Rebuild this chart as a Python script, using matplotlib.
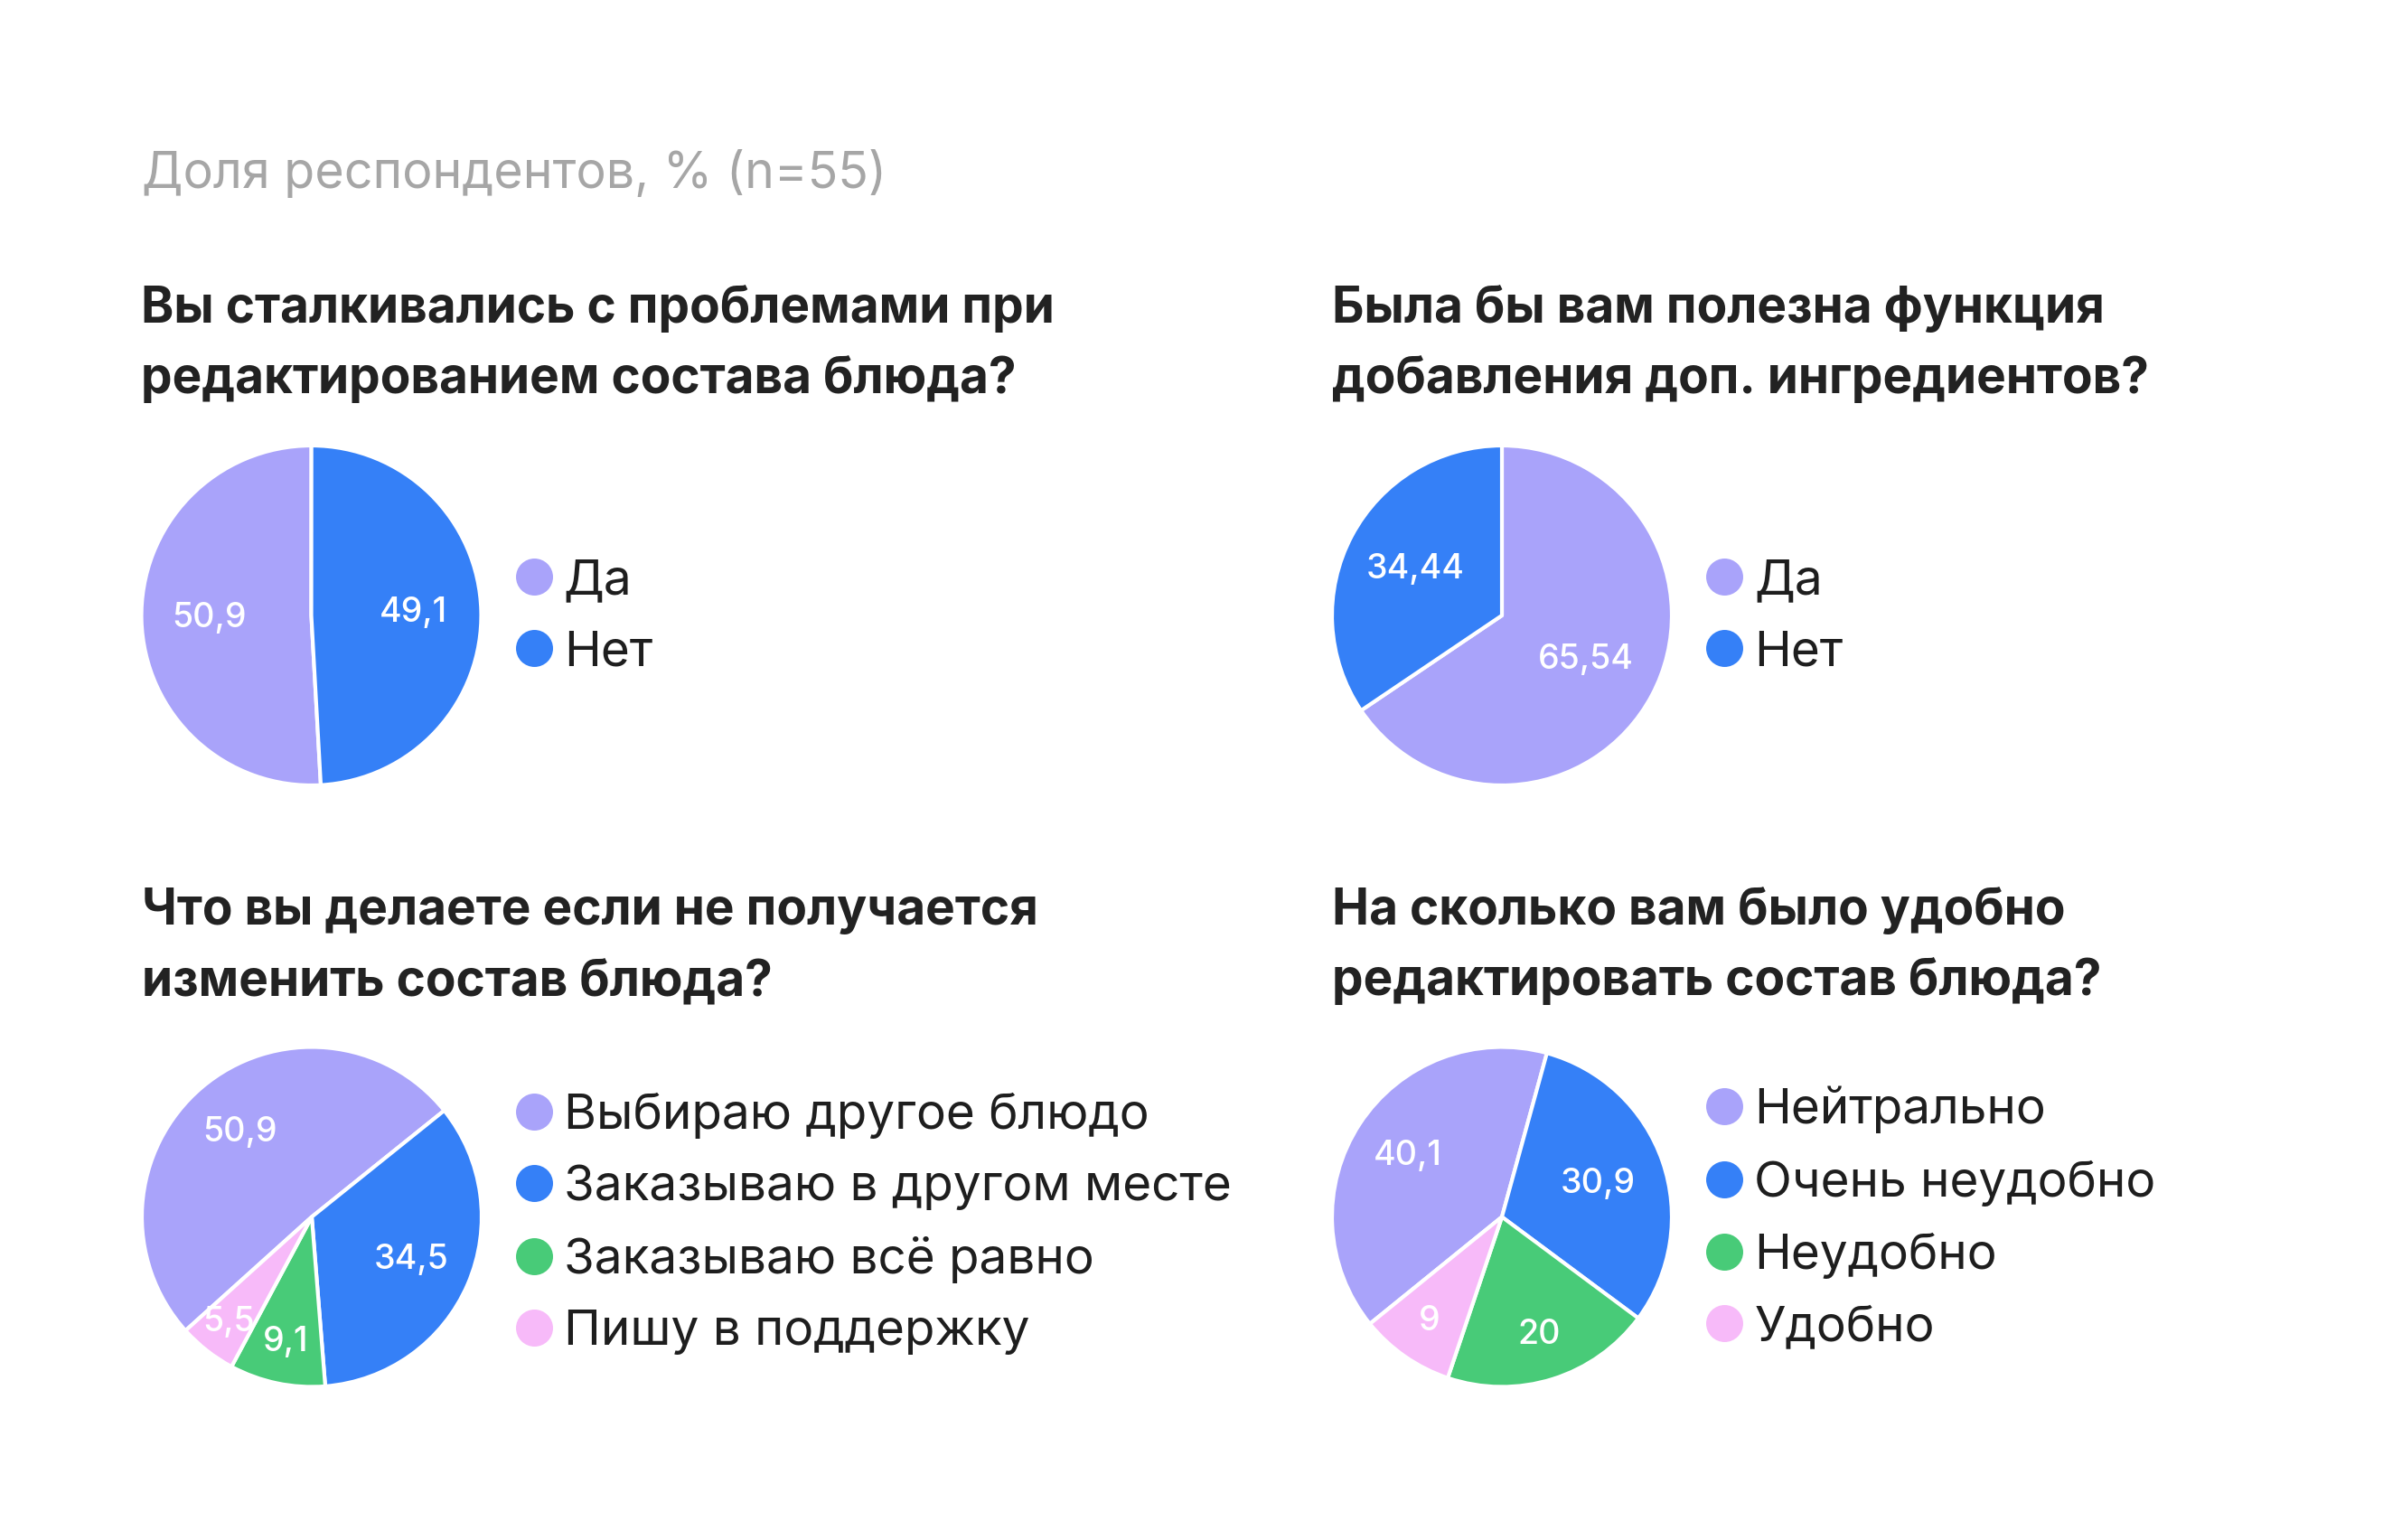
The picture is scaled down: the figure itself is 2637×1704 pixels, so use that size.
import matplotlib
matplotlib.use("Agg")
import matplotlib.pyplot as plt
from matplotlib.lines import Line2D
import numpy as np

plt.rcParams['font.family'] = ['Inter', 'DejaVu Sans']

# --- data ---
subtitle = "Доля респондентов, % (n=55)"

q1_title = ["Вы сталкивались с проблемами при", "редактированием состава блюда?"]
q1_labels = ["Да", "Нет"]
q1_values = [50.9, 49.1]

q2_title = ["Была бы вам полезна функция", "добавления доп. ингредиентов?"]
q2_labels = ["Да", "Нет"]
q2_values = [65.54, 34.44]

q3_title = ["Что вы делаете если не получается", "изменить состав блюда?"]
q3_labels = ["Выбираю другое блюдо", "Заказываю в другом месте",
             "Заказываю всё равно", "Пишу в поддержку"]
q3_values = [50.9, 34.5, 9.1, 5.5]

q4_title = ["На сколько вам было удобно", "редактировать состав блюда?"]
q4_labels = ["Нейтрально", "Очень неудобно", "Неудобно", "Удобно"]
q4_values = [40.1, 30.9, 20, 9]

colors = ["#A9A3FA", "#3580F7", "#48CB78", "#F7BAF9"]

# --- layout (pixels) ---
W, H = 2637, 1704
fig = plt.figure(figsize=(W / 100, H / 100), dpi=100)
fig.patch.set_facecolor("white")

R = 188


def fx(x):
    return x / W


def fy(y):
    return 1 - y / H


fig.text(fx(157), fy(208), subtitle, fontsize=40, color="#A6A6A6", va="baseline")

charts = [
    # title, labels, values, centre, startangle, label distances, legend centre y
    (q1_title, q1_labels, q1_values, (344.5, 681), 273.2, [0.6, 0.6], 683),
    (q2_title, q2_labels, q2_values, (1662, 681), 90, [0.56, 0.58], 683),
    (q3_title, q3_labels, q3_values, (345, 1346.5), 222, [0.65, 0.64, 0.75, 0.79], 1354),
    (q4_title, q4_labels, q4_values, (1662, 1346.5), 219, [0.66, 0.6, 0.73, 0.75], 1348),
]
title_base = {681: 357, 1346.5: 1023}

for title, labels, values, (cx, cy), start, dists, leg_y in charts:
    ax = fig.add_axes([fx(cx - R), fy(cy + R), fx(2 * R), 2 * R / H])
    wedges, _ = ax.pie(values, colors=colors[:len(values)], startangle=start,
                       counterclock=False, radius=1,
                       wedgeprops=dict(edgecolor="white", linewidth=3,
                                       joinstyle="round", clip_on=False))
    ax.set_xlim(-1, 1)
    ax.set_ylim(-1, 1)
    ax.set_aspect("equal")
    ax.axis("off")
    for w, v, d in zip(wedges, values, dists):
        ang = np.deg2rad((w.theta1 + w.theta2) / 2)
        ax.text(d * np.cos(ang), d * np.sin(ang), f"{v:g}".replace(".", ","),
                ha="center", va="center", color="white", fontsize=27, fontweight="medium")

    # title lines
    tx = cx - R
    base = title_base[cy]
    for i, line in enumerate(title):
        fig.text(fx(tx), fy(base + i * 78), line, fontsize=39.6, fontweight="bold",
                 color="#222222", va="baseline")

    handles = [Line2D([], [], linestyle="none", marker="o", markersize=29.5,
                      markerfacecolor=c, markeredgecolor="none")
               for c in colors[:len(values)]]
    fig.legend(handles, labels, loc="center left",
               bbox_to_anchor=(fx(cx + 246 - 20.5), fy(leg_y)),
               bbox_transform=fig.transFigure, frameon=False, fontsize=39.5,
               handlelength=0.76, handletextpad=0.22, labelspacing=0.53,
               borderpad=0, borderaxespad=0, labelcolor="#1E1E1E")

fig.savefig("out.png", dpi=100, facecolor="white")
